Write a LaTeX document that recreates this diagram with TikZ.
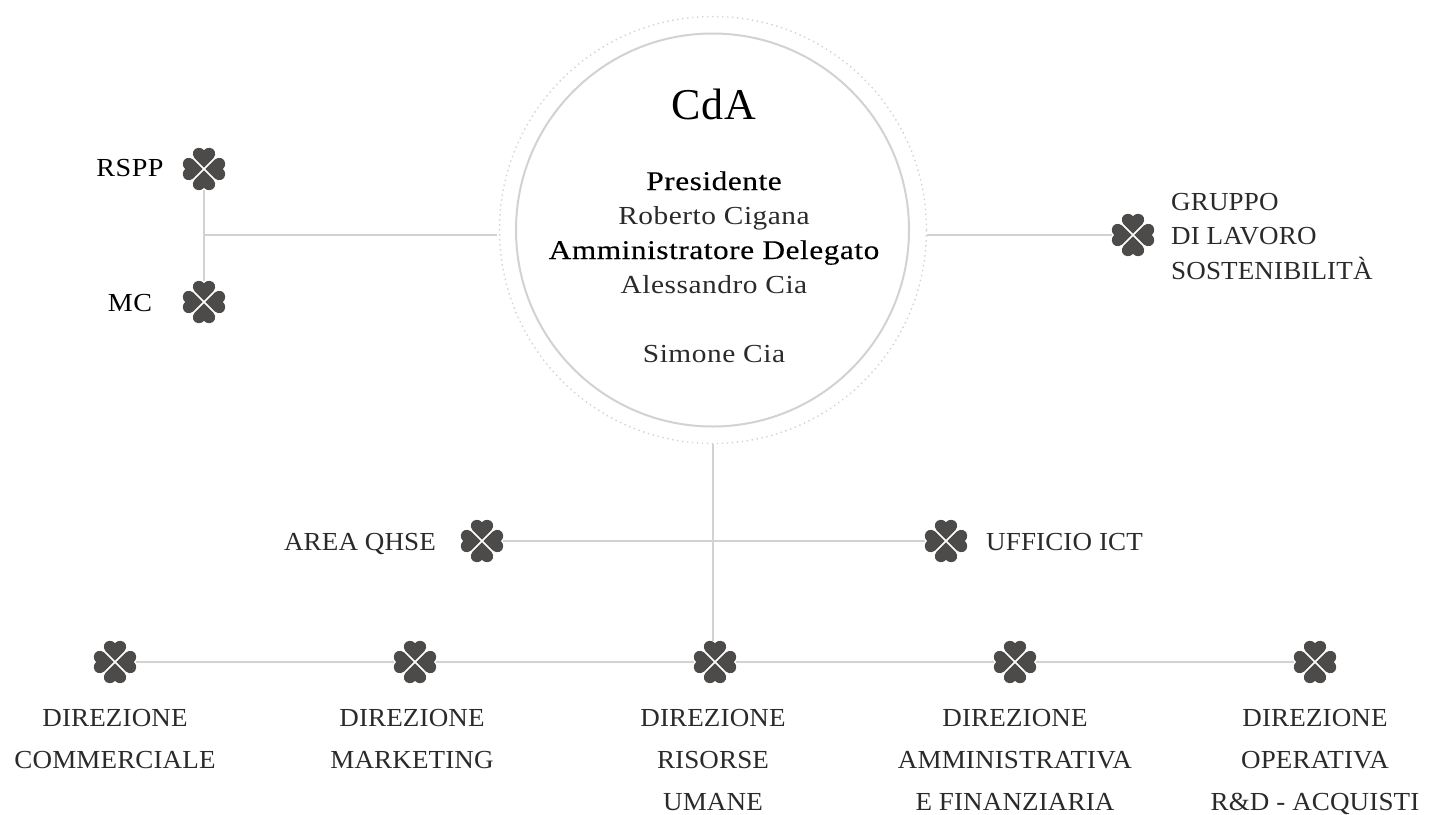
\documentclass[tikz,border=0pt]{standalone}
\usepackage{fontspec}
\setmainfont{Liberation Serif}[FakeStretch=1.04,LetterSpace=0.5]
\newfontfamily\namef{Liberation Serif}[FakeStretch=1.13,LetterSpace=2]
\newfontfamily\keyf{Liberation Serif}[FakeStretch=1.08,LetterSpace=2]
\newfontfamily\strongf{Liberation Serif}[FakeStretch=1.16,LetterSpace=2,FakeBold=0.3]
\newfontfamily\titlef{Liberation Serif}[FakeStretch=1.0,LetterSpace=2]
\definecolor{ink}{HTML}{2A2A2A}
\definecolor{rule}{HTML}{D2D2D2}
\definecolor{leaf}{HTML}{4D4A4A}
\tikzset{
  x=1pt,y=-1pt,
  lbl/.style={font=\fontsize{26}{42}\selectfont,text=ink,align=center,inner sep=0pt},
  lblleft/.style={lbl,align=left,anchor=base west},
  namelbl/.style={font=\fontsize{26}{34}\selectfont\namef,text=ink,inner sep=0pt,anchor=base},
  strong/.style={font=\fontsize{27}{34}\selectfont\strongf,text=black,inner sep=0pt,anchor=base},
  keylbl/.style={font=\fontsize{26}{34}\selectfont\keyf,text=black,inner sep=0pt,anchor=base},
  conn/.style={draw=rule,line width=2pt},
  cloverbox/.style={circle,minimum size=42pt,inner sep=0pt,outer sep=0pt},
  petal/.style={fill=leaf,draw=none},
  pics/clover/.style={code={
    \foreach \a in {0,90,180,270}{
      \fill[petal,rotate=\a] (0,-1.3) -- (-9.4,-10.7)
        .. controls (-13,-14.6) and (-10.8,-21.2) .. (-5.6,-21.2)
        .. controls (-3.2,-21.2) and (-1,-20.4) .. (0,-18.8)
        .. controls (1,-20.4) and (3.2,-21.2) .. (5.6,-21.2)
        .. controls (10.8,-21.2) and (13,-14.6) .. (9.4,-10.7) -- cycle;
    }
  }}
}
\newcommand{\clov}[3]{\node[cloverbox] (#1) at (#2,#3) {}; \pic at (#1) {clover};}
\begin{document}
\begin{tikzpicture}
\useasboundingbox (0,0) rectangle (1429,814);
% circles
\node[circle,draw=rule,line width=2pt,minimum size=393pt,inner sep=0pt] (inner) at (712.5,230) {};
\node[circle,draw=rule,line width=1.4pt,dash pattern=on 1.4pt off 3.6pt,minimum size=427pt,inner sep=0pt] (outer) at (713,230) {};
% clovers
\clov{rspp}{204}{169}
\clov{mc}{204}{302}
\clov{gruppo}{1133}{235}
\clov{qhse}{482}{541}
\clov{ict}{946}{541}
\clov{dcomm}{115}{662}
\clov{dmark}{415}{662}
\clov{drisorse}{715}{662}
\clov{damm}{1015}{662}
\clov{doper}{1315}{662}
% connector anchors
\coordinate (jleft) at (204,235);
\coordinate (cleft) at (497,235);
\coordinate (cright) at (927,235);
\coordinate (ctop) at (713,444);
\coordinate (cbot) at (713,641);
% connectors
\draw[conn] (rspp) -- (mc);
\draw[conn] (jleft) -- (cleft);
\draw[conn] (cright) -- (gruppo);
\draw[conn] (ctop) -- (cbot);
\draw[conn] (qhse) -- (ict);
\draw[conn] (dcomm) -- (dmark);
\draw[conn] (dmark) -- (drisorse);
\draw[conn] (drisorse) -- (damm);
\draw[conn] (damm) -- (doper);
% labels
\node[font=\fontsize{44}{50}\selectfont\titlef,text=black,inner sep=0pt,anchor=base] (cda) at (714,119) {CdA};
\node[strong] (pres) at (714,190) {Presidente};
\node[namelbl] (rob) at (714,224) {Roberto Cigana};
\node[strong] (ad) at (714,259) {Amministratore Delegato};
\node[namelbl] (ale) at (714,293) {Alessandro Cia};
\node[namelbl] (sim) at (714,362) {Simone Cia};
\node[keylbl] (trspp) at (130,176) {RSPP};
\node[keylbl] (tmc) at (130,311) {MC};
\node[lbl,align=left,anchor=west,font=\fontsize{26}{34.5}\selectfont] (tgruppo) at (1171,236.5) {GRUPPO\\DI LAVORO\\SOSTENIBILITÀ};
\node[lbl,anchor=base] (tqhse) at (360,550) {AREA QHSE};
\node[lblleft] (tict) at (986,550) {UFFICIO ICT};
\node[lbl,anchor=north] (t1) at (115,709) {DIREZIONE\\COMMERCIALE};
\node[lbl,anchor=north] (t2) at (412,709) {DIREZIONE\\MARKETING};
\node[lbl,anchor=north] (t3) at (713,709) {DIREZIONE\\RISORSE\\UMANE};
\node[lbl,anchor=north] (t4) at (1015,709) {DIREZIONE\\AMMINISTRATIVA\\E FINANZIARIA};
\node[lbl,anchor=north] (t5) at (1315,709) {DIREZIONE\\OPERATIVA\\R\&D - ACQUISTI};
\end{tikzpicture}
\end{document}
